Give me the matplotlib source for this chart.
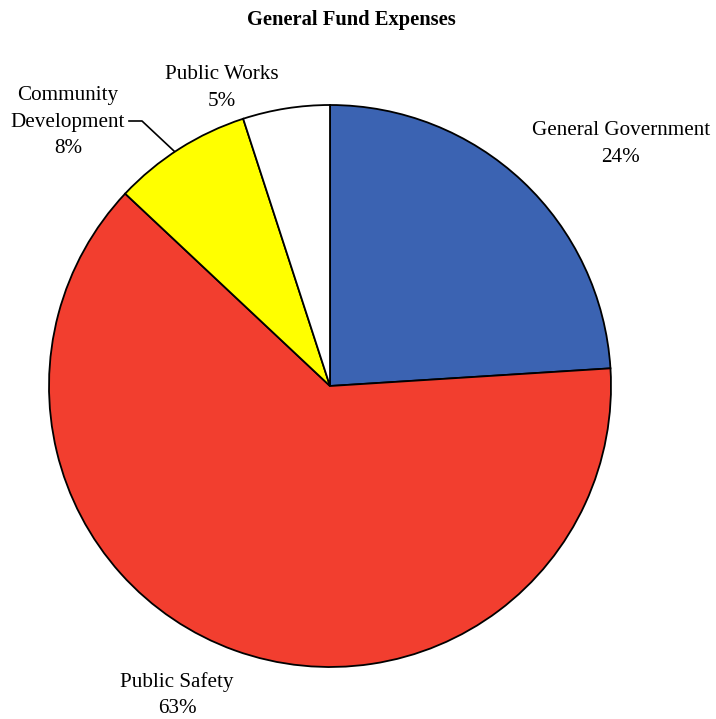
import matplotlib.pyplot as plt

# data
categories = ["General Government", "Public Safety", "Community\nDevelopment", "Public Works"]
shares = [24, 63, 8, 5]
colors = ["#3B63B2", "#F23E2F", "#FFFF00", "#FFFFFF"]

W, H = 716, 719
CX, CY, R = 330, 386, 281

plt.rcParams["font.family"] = ["Liberation Serif", "DejaVu Serif"]

fig = plt.figure(figsize=(W / 100, H / 100), dpi=100)
ax = fig.add_axes([(CX - R) / W, (H - CY - R) / H, 2 * R / W, 2 * R / H])
ax.pie(
    shares,
    colors=colors,
    startangle=90,
    counterclock=False,
    radius=1,
    wedgeprops=dict(edgecolor="black", linewidth=1.3),
)
ax.set_xlim(-1, 1)
ax.set_ylim(-1, 1)
ax.axis("off")


def px(x, y):
    # pixel position -> data coordinates of the pie axes
    return (x - CX) / R, (CY - y) / R


# labels
label_pos = [(621, 144), (177, 695), (68, 122), (222, 88)]
for name, val, (x, y) in zip(categories, shares, label_pos):
    ax.text(*px(x, y), f"{name}\n{val}%", ha="center", va="center",
            fontsize=15.2, linespacing=1.55, clip_on=False)

# leader line for Community Development
xs, ys = zip(px(129, 121), px(142, 121), px(174, 151))
ax.plot(xs, ys, color="black", linewidth=1.2, clip_on=False)

fig.text(351 / W, 1 - 20 / H, "General Fund Expenses", ha="center", va="center",
         fontsize=14.8, fontweight="bold")

fig.savefig("out.png", dpi=100)
